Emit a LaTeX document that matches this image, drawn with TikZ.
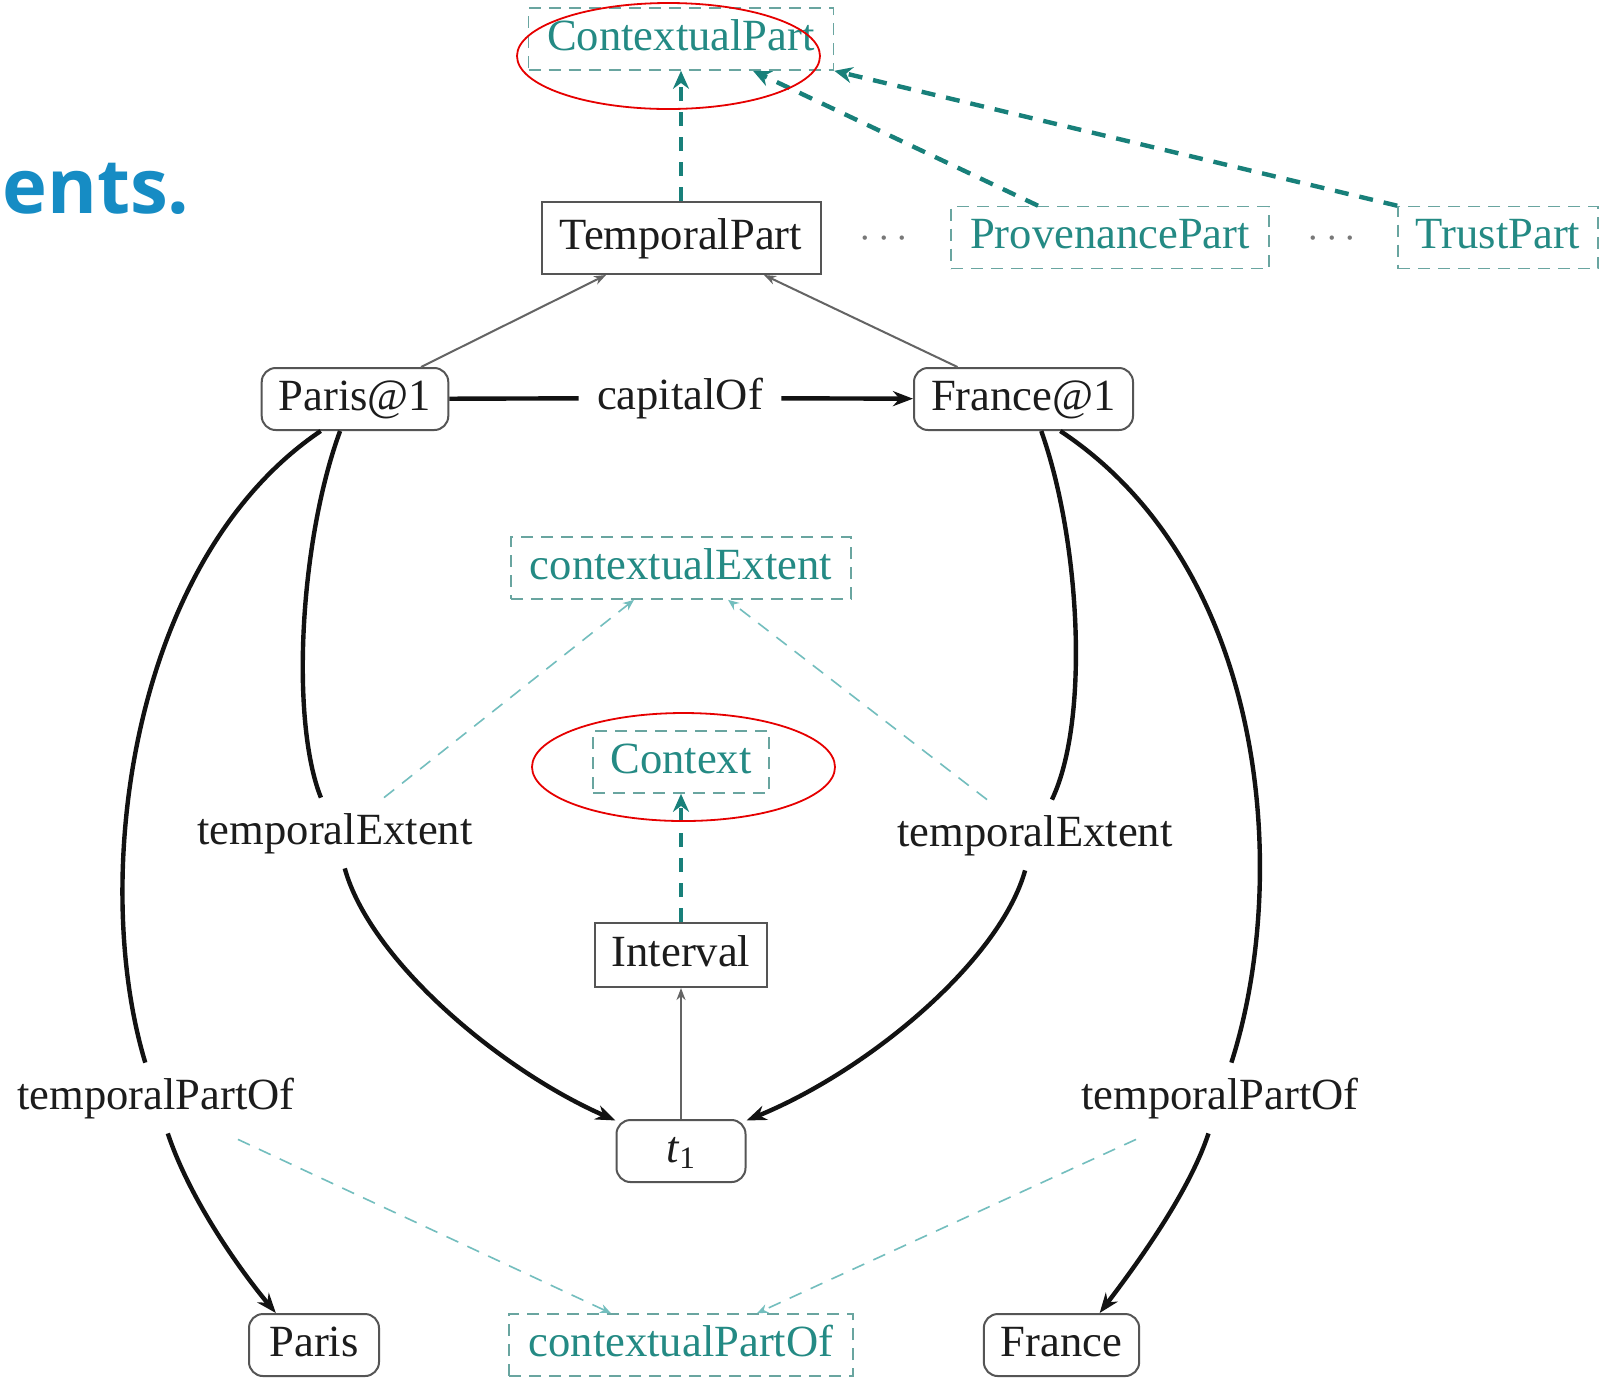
\documentclass[tikz,border=0pt]{standalone}
\usepackage{fontspec}
\setmainfont{Liberation Serif}
\newfontfamily\headfont{Open Sans}
\usetikzlibrary{arrows.meta,calc,shapes.geometric}

\definecolor{inkblack}{RGB}{28,28,28}
\definecolor{boxgray}{RGB}{85,85,85}
\definecolor{edgeblack}{RGB}{18,18,18}
\definecolor{thingray}{RGB}{100,100,100}
\definecolor{tealtext}{RGB}{36,138,132}
\definecolor{ctxborder}{RGB}{105,165,160}
\definecolor{tealdark}{RGB}{24,128,122}
\definecolor{teallight}{RGB}{115,190,190}
\definecolor{dotgray}{RGB}{120,120,120}
\definecolor{hired}{RGB}{230,0,0}
\definecolor{headblue}{RGB}{22,140,196}

\begin{document}
\begin{tikzpicture}[x=0.5pt,y=-0.5pt,
  every node/.style={font=\fontsize{22.3}{26}\selectfont, text height=15.5pt,
    text depth=4.5pt, inner xsep=8.5pt, inner ysep=5.5pt, text=inkblack},
  solidbox/.style={draw=boxgray, line width=1pt, minimum height=31pt},
  roundbox/.style={solidbox, rounded corners=7pt},
  ctxbox/.style={draw=ctxborder, dash pattern=on 6pt off 4pt, line width=0.8pt,
    minimum height=31pt, text=tealtext},
  edgelabel/.style={fill=white, inner xsep=9pt, inner ysep=7.5pt},
  strongedge/.style={draw=edgeblack, line width=2.2pt},
  strongarrow/.style={strongedge, -{Stealth[length=10pt,width=7.5pt]}},
  typearrow/.style={draw=thingray, line width=1pt, -{Stealth[length=6pt,width=4.5pt]}},
  ctxarrow/.style={draw=tealdark, line width=2.2pt, dash pattern=on 7pt off 5.5pt,
    -{Stealth[length=9pt,width=8pt,sep=0pt]}},
  annot/.style={draw=teallight, line width=0.8pt, dash pattern=on 6.5pt off 5pt,
    -{Stealth[length=5.5pt,width=4.5pt]}},
  highlight/.style={draw=hired, line width=0.9pt, ellipse, inner sep=0pt},
]
\useasboundingbox (0,0) rectangle (1604,1378);
\fill[white] (0,0) rectangle (1604,1378);

% heading fragment
\node[font=\headfont\bfseries\fontsize{38}{40}\selectfont, text=headblue,
  anchor=base east, inner sep=0pt] (head) at (190,213) {ents.};

% context parts
\node[ctxbox, minimum width=152.5pt] (cpart) at (681,39) {ContextualPart};
\node[solidbox, minimum width=139.5pt, minimum height=36pt] (tpart) at (681,238) {TemporalPart};
\node[text=dotgray] (dotsa) at (884,237) {$\cdots$};
\node[ctxbox, minimum width=159pt] (ppart) at (1110,237.5) {ProvenancePart};
\node[text=dotgray] (dotsb) at (1332,237) {$\cdots$};
\node[ctxbox, minimum width=100pt] (trust) at (1498,237.5) {TrustPart};

% temporal parts and relation
\node[roundbox, minimum width=92pt] (paris1) at (355,399) {Paris@1};
\node[roundbox, minimum width=109.5pt] (france1) at (1023.5,399) {France@1};
\node[edgelabel] (cap) at (680,398) {capitalOf};

% extents
\node[ctxbox, minimum width=170pt] (cext) at (681,568) {contextualExtent};
\node[ctxbox, minimum width=88pt] (ctx) at (681,762) {Context};
\node[edgelabel] (te1) at (335,833) {temporalExtent};
\node[edgelabel] (te2) at (1035,835) {temporalExtent};
\node[solidbox, minimum width=86pt, minimum height=32pt] (interval) at (681,955) {Interval};
\node[roundbox, minimum width=64.5pt] (t1) at (681,1151) {\textit{t}\textsubscript{1}};

% whole entities
\node[edgelabel] (tpo1) at (156,1098) {temporalPartOf};
\node[edgelabel] (tpo2) at (1220,1098) {temporalPartOf};
\node[roundbox, minimum width=65pt] (paris) at (314,1345) {Paris};
\node[ctxbox, minimum width=172pt] (cpo) at (681,1345) {contextualPartOf};
\node[roundbox, minimum width=77.5pt] (france) at (1061.5,1345) {France};

% type links
\draw[typearrow] ($(paris1.north)+(66,0)$) -- ($(tpart.south)+(-75,0)$);
\draw[typearrow] ($(france1.north)+(-66,0)$) -- ($(tpart.south)+(83,0)$);
\draw[typearrow] (t1) -- (interval);

% subclass links
\draw[ctxarrow] (tpart) -- (cpart);
\draw[ctxarrow] ($(ppart.north)+(-72,0)$) -- ($(cpart.south)+(72,0)$);
\draw[ctxarrow] (trust.north west) -- (cpart.south east);
\draw[ctxarrow] (interval) -- (ctx);

% capitalOf
\draw[strongedge] (paris1) -- (cap);
\draw[strongarrow] (cap) -- (france1);

% temporalExtent
\draw[strongedge] (paris1.245) .. controls (300,540) and (290,720) .. (te1);
\draw[strongarrow] (te1) .. controls (370,960) and (500,1070) .. (t1.155);
\draw[strongedge] (france1.-61) .. controls (1080,540) and (1090,720) .. (te2);
\draw[strongarrow] (te2) .. controls (1000,960) and (870,1070) .. (t1.25);

% temporalPartOf
\draw[strongedge] (paris1.223) .. controls (130,560) and (90,880) .. (tpo1);
\draw[strongarrow] (tpo1) .. controls (190,1200) and (240,1270) .. (paris.140);
\draw[strongedge] (france1.-41) .. controls (1270,570) and (1290,880) .. (tpo2);
\draw[strongarrow] (tpo2) .. controls (1190,1190) and (1140,1260) .. (france.40);

% property typing
\draw[annot] ($(te1.north)+(49,0)$) -- ($(cext.south)+(-47,0)$);
\draw[annot] ($(te2.north)+(-48,0)$) -- ($(cext.south)+(47,0)$);
\draw[annot] ($(tpo1.south)+(82,6)$) -- ($(cpo.north)+(-70,0)$);
\draw[annot] ($(tpo2.south)+(-84,6)$) -- ($(cpo.north)+(76,0)$);

% emphasis
\node[highlight, minimum width=151.5pt, minimum height=53pt] (hlpart) at (668.5,56) {};
\node[highlight, minimum width=151.5pt, minimum height=54pt] (hlctx) at (683.5,767) {};
\end{tikzpicture}
\end{document}
